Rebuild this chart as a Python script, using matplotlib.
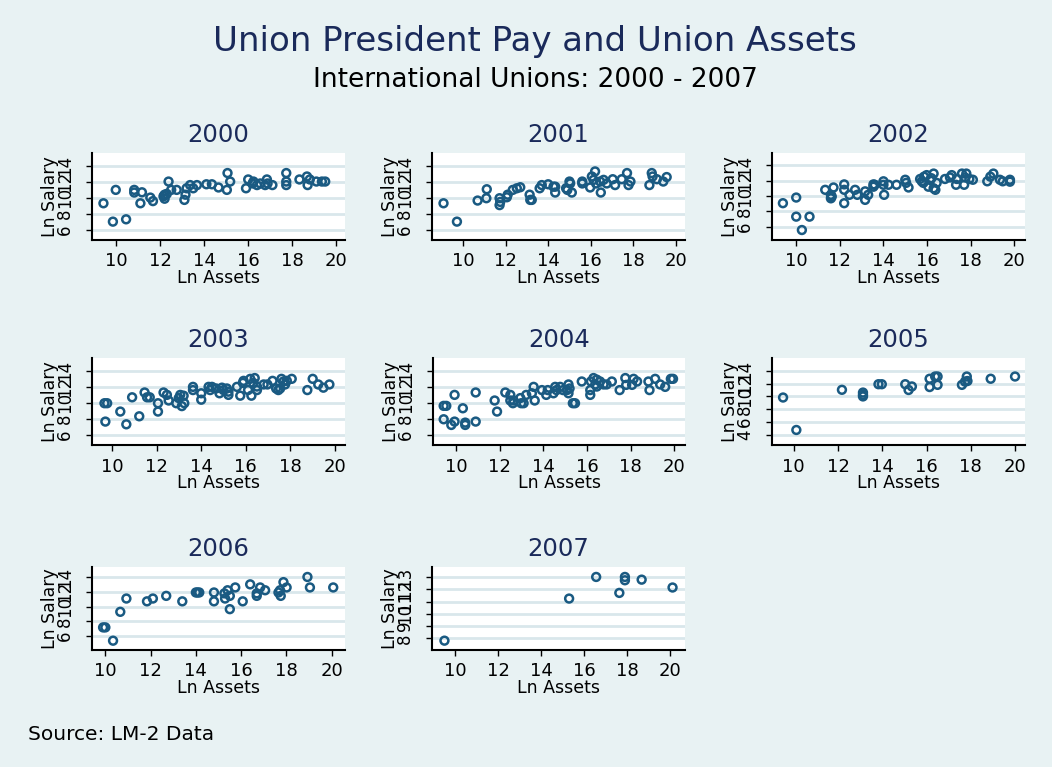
import numpy as np
import matplotlib
matplotlib.use("Agg")
import matplotlib.pyplot as plt

# ---- data: (ln assets, ln salary) ----
x2000 = [9.42, 9.98, 9.85, 10.45, 10.82, 10.82, 11.17, 11.1, 11.55, 11.67, 12.15, 12.2, 12.3, 12.2,
         12.38, 12.5, 12.75, 13.1, 13.15, 13.2, 13.36, 13.5, 13.67, 14.1, 14.35, 14.65, 15.03, 15.06,
         15.18, 15.9, 16.0, 16.2, 16.24, 16.4, 16.55, 16.85, 16.88, 16.77, 17.1, 17.73, 17.73, 17.73,
         18.33, 18.67, 18.7, 18.8, 19.1, 19.35, 19.5]
y2000 = [9.33, 11.0, 7.04, 7.33, 11.0, 10.67, 10.7, 9.33, 10.04, 9.6, 10.2, 10.4, 10.5, 9.9,
         12.04, 11.0, 11.0, 9.75, 10.4, 11.2, 11.6, 11.2, 11.6, 11.7, 11.7, 11.3, 11.0, 13.1,
         12.04, 11.2, 12.3, 11.8, 12.04, 11.6, 11.8, 12.3, 11.8, 11.6, 11.6, 13.1, 12.04, 11.6,
         12.3, 12.67, 11.6, 12.3, 12.04, 12.04, 12.04]

x2001 = [9.09, 9.72, 10.69, 11.1, 11.12, 11.72, 11.72, 11.75, 12.06, 12.1, 12.34, 12.53, 12.69,
         13.13, 13.16, 13.23, 13.6, 13.7, 14.0, 14.25, 14.33, 14.33, 14.84, 14.9, 15.0, 15.03, 15.11,
         15.6, 15.6, 15.97, 16.05, 16.13, 16.2, 16.25, 16.44, 16.47, 16.6, 16.75, 17.03, 17.14,
         17.45, 17.7, 17.77, 17.86, 18.75, 18.86, 18.9, 19.1, 19.4, 19.56]
y2001 = [9.33, 7.04, 9.67, 9.96, 11.08, 9.96, 9.1, 9.5, 10.08, 10.4, 11.0, 11.2, 11.33,
         10.4, 9.75, 9.75, 11.2, 11.6, 11.7, 11.4, 11.4, 10.67, 11.2, 11.0, 12.04, 11.8, 10.67,
         11.8, 12.04, 11.3, 12.67, 12.25, 13.3, 11.8, 12.04, 10.67, 12.25, 11.8, 12.33, 11.6,
         12.33, 13.1, 11.6, 12.04, 11.6, 13.1, 12.67, 12.33, 12.04, 12.6]

x2002 = [9.39, 10.0, 10.0, 10.26, 10.61, 11.33, 11.59, 11.59, 11.63, 11.71, 12.2, 12.2, 12.2,
         12.44, 12.7, 12.8, 13.16, 13.16, 13.3, 13.54, 13.54, 13.6, 14.0, 14.0, 14.03, 14.23,
         14.6, 15.0, 15.04, 15.15, 15.68, 15.76, 15.83, 15.86, 15.98, 16.06, 16.14, 16.2, 16.3,
         16.3, 16.38, 16.44, 16.82, 17.05, 17.13, 17.33, 17.36, 17.6, 17.7, 17.74, 17.8, 17.94,
         18.1, 18.76, 18.9, 19.04, 19.34, 19.47, 19.8, 19.8]
y2002 = [9.07, 9.8, 7.33, 5.6, 7.33, 10.8, 10.15, 9.7, 9.93, 11.1, 11.5, 10.8, 9.07,
         10.15, 10.8, 10.15, 10.6, 9.5, 10.15, 11.2, 11.5, 11.45, 11.9, 11.45, 10.15, 11.45,
         11.45, 12.1, 11.7, 11.1, 12.2, 11.9, 11.7, 12.5, 12.7, 11.2, 12.07, 12.3, 11.0,
         12.9, 10.8, 11.7, 12.2, 12.4, 12.7, 11.45, 12.2, 12.9, 11.45, 12.4, 12.9, 12.2,
         12.1, 11.9, 12.5, 12.9, 12.1, 11.9, 12.1, 11.85]

x2003 = [9.66, 9.78, 9.7, 10.37, 10.64, 10.9, 11.22, 11.46, 11.57, 11.69, 12.06, 12.06, 12.31,
         12.46, 12.54, 12.88, 12.99, 13.06, 13.13, 13.21, 13.24, 13.63, 13.63, 14.0, 14.0, 14.33,
         14.4, 14.48, 14.67, 14.82, 14.93, 15.0, 15.15, 15.22, 15.22, 15.6, 15.75, 15.87, 15.9,
         16.1, 16.2, 16.25, 16.33, 16.4, 16.5, 16.5, 16.8, 16.97, 17.2, 17.36, 17.46, 17.54,
         17.6, 17.69, 17.76, 17.84, 18.06, 18.76, 19.0, 19.25, 19.48, 19.75]
y2003 = [9.96, 9.96, 7.67, 8.92, 7.33, 10.7, 8.33, 11.3, 10.7, 10.7, 9.96, 8.92, 11.3,
         11.0, 10.3, 9.96, 10.6, 11.0, 9.6, 10.9, 9.96, 12.0, 11.6, 11.2, 10.4, 12.0,
         11.6, 12.0, 11.8, 11.2, 11.9, 11.6, 11.8, 11.0, 11.4, 12.0, 10.9, 12.5, 12.75,
         11.6, 13.0, 10.9, 12.5, 13.1, 12.04, 11.6, 12.3, 12.3, 12.75, 11.8, 11.6, 11.8,
         13.0, 12.67, 12.3, 12.75, 13.0, 11.6, 13.0, 12.3, 11.9, 12.3]

x2004 = [9.42, 9.54, 9.42, 9.77, 9.92, 9.92, 10.3, 10.41, 10.41, 10.89, 10.89, 11.76, 11.87,
         12.25, 12.48, 12.48, 12.6, 12.63, 12.94, 12.98, 13.09, 13.21, 13.47, 13.55, 13.6, 13.93,
         14.13, 14.2, 14.46, 14.54, 14.6, 14.77, 14.9, 15.08, 15.15, 15.15, 15.2, 15.35, 15.45,
         15.76, 16.15, 16.15, 16.18, 16.3, 16.38, 16.45, 16.45, 16.6, 16.76, 16.9, 17.14, 17.5,
         17.76, 17.8, 18.07, 18.14, 18.3, 18.82, 18.87, 19.13, 19.36, 19.59, 19.85, 19.95]
y2004 = [9.63, 9.63, 7.96, 7.25, 7.67, 11.0, 9.33, 7.54, 7.25, 11.3, 7.67, 10.3, 8.92,
         11.3, 11.0, 10.3, 9.96, 10.3, 10.6, 9.96, 9.96, 11.0, 11.2, 12.0, 10.3, 11.6,
         11.0, 11.6, 11.2, 12.0, 11.6, 12.0, 11.6, 11.6, 12.3, 11.2, 11.8, 9.96, 9.96,
         12.67, 11.6, 11.0, 12.67, 13.1, 12.3, 12.9, 12.04, 12.67, 12.3, 12.3, 12.67, 11.6,
         13.1, 12.25, 12.25, 13.0, 12.67, 12.67, 11.6, 13.0, 12.3, 12.0, 13.0, 13.0]

x2005 = [9.52, 10.12, 12.18, 13.13, 13.13, 13.13, 13.83, 13.98, 15.04, 15.19, 15.34, 16.14,
         16.14, 16.39, 16.5, 16.5, 17.6, 17.74, 17.82, 17.85, 18.9, 20.0]
y2005 = [9.83, 4.78, 11.03, 10.6, 10.25, 10.0, 11.9, 11.9, 11.9, 11.0, 11.55, 12.75,
         11.46, 13.1, 13.1, 11.8, 11.8, 12.3, 13.1, 12.4, 12.75, 13.1]

x2006 = [9.9, 10.0, 10.34, 10.66, 10.93, 11.84, 12.1, 12.69, 13.4, 14.0, 14.07, 14.15, 14.8,
         14.8, 15.26, 15.29, 15.4, 15.5, 15.5, 15.74, 16.07, 16.4, 16.69, 16.69, 16.84, 17.06,
         17.65, 17.72, 17.75, 17.87, 18.01, 18.93, 19.04, 20.07]
y2006 = [7.17, 7.17, 5.37, 9.28, 11.08, 10.7, 11.08, 11.44, 10.7, 11.9, 11.9, 11.9, 11.9,
         10.7, 11.78, 11.08, 12.2, 11.44, 9.64, 12.58, 10.7, 13.0, 11.78, 11.44, 12.58, 12.2,
         11.9, 12.2, 11.44, 13.3, 12.58, 14.0, 12.58, 12.58]

x2007 = [9.49, 15.3, 16.56, 17.64, 17.9, 17.9, 18.68, 20.12]
y2007 = [7.81, 11.24, 13.0, 11.7, 13.0, 12.73, 12.78, 12.14]

years = ["2000", "2001", "2002", "2003", "2004", "2005", "2006", "2007"]
xs = [x2000, x2001, x2002, x2003, x2004, x2005, x2006, x2007]
ys = [y2000, y2001, y2002, y2003, y2004, y2005, y2006, y2007]
xticks = [10, 12, 14, 16, 18, 20]
yticks = [[6, 8, 10, 12, 14]] * 5 + [[4, 6, 8, 10, 12, 14], [6, 8, 10, 12, 14], [8, 9, 10, 11, 12, 13]]
xlims = [(8.9, 20.4), (8.55, 20.42), (8.89, 20.49), (9.1, 20.45), (8.93, 20.5), (9.02, 20.45),
         (9.41, 20.59), (8.91, 20.7)]
ylims = [(4.75, 15.6), (4.75, 15.6), (4.31, 15.56), (4.75, 15.6), (4.75, 15.6), (2.44, 15.98),
         (4.11, 15.35), (7.05, 13.81)]

# plot regions in pixels (left, top, right, bottom)
boxes = [(92, 153, 345, 240), (432, 153, 685, 240), (772, 153, 1025, 240),
         (92, 358, 345, 445), (433, 358, 685, 445), (772, 358, 1025, 445),
         (92, 567, 345, 650), (432, 567, 685, 650)]

W, H = 1052, 767
bg = "#e8f2f3"
navy = "#1a2a5a"
mcol = "#1a5a82"
grid = "#d9e7eb"

fig = plt.figure(figsize=(W / 100, H / 100), dpi=100, facecolor=bg)

fig.text(535 / W, 1 - 41 / H, "Union President Pay and Union Assets", color=navy,
         fontsize=24.5, ha="center", va="center")
fig.text(535 / W, 1 - 80 / H, "International Unions: 2000 - 2007", color="black",
         fontsize=19, ha="center", va="center")
fig.text(28 / W, 1 - 735 / H, "Source: LM-2 Data", color="black", fontsize=14.5,
         ha="left", va="center")

for i in range(8):
    l, t, r, b = boxes[i]
    ax = fig.add_axes([l / W, 1 - b / H, (r - l) / W, (b - t) / H])
    ax.set_facecolor("white")
    ax.scatter(xs[i], ys[i], s=32, facecolors="none", edgecolors=mcol, linewidths=1.8, zorder=3)
    ax.set_xlim(xlims[i])
    ax.set_ylim(ylims[i])
    ax.set_xticks(xticks)
    ax.set_yticks(yticks[i])
    for yv in yticks[i]:
        ax.axhline(yv, color=grid, lw=2, zorder=1)
    ax.set_yticklabels([str(v) for v in yticks[i]], rotation=90, va="center", fontsize=12)
    ax.tick_params(axis="x", labelsize=13, length=4, width=1, pad=5)
    ax.tick_params(axis="y", length=4, width=1, pad=9)
    for s in ["top", "right"]:
        ax.spines[s].set_visible(False)
    for s in ["left", "bottom"]:
        ax.spines[s].set_linewidth(1.5)
    ax.set_xlabel("Ln Assets", fontsize=12.5, labelpad=-1)
    ax.set_ylabel("Ln Salary", fontsize=12.5, labelpad=-2)
    ax.set_title(years[i], color=navy, fontsize=17.5, pad=8)

fig.savefig("out.png", dpi=100, facecolor=bg)
